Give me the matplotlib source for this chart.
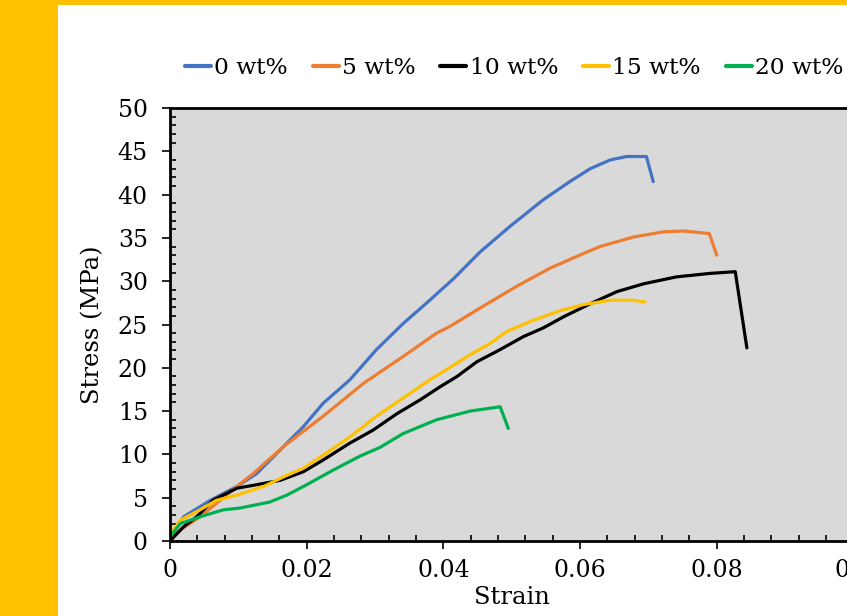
import matplotlib
matplotlib.use("Agg")
import matplotlib.pyplot as plt
from matplotlib.patches import Rectangle
from matplotlib.ticker import MultipleLocator

plt.rcParams['font.family'] = ['DejaVu Serif']

labels = ["0 wt%", "5 wt%", "10 wt%", "15 wt%", "20 wt%"]
colors = ["#4472C4", "#ED7D31", "#000000", "#FFC000", "#00B050"]

strain_0 = [0, 0.0020, 0.0059, 0.0098, 0.0127, 0.0156, 0.0195, 0.0224, 0.0263, 0.0302,
            0.0341, 0.0380, 0.0415, 0.0454, 0.0497, 0.0546, 0.0585, 0.0615, 0.0644,
            0.0668, 0.0697, 0.0707]
stress_0 = [0.5, 2.8, 4.7, 6.3, 7.8, 10.1, 13.2, 15.9, 18.6, 22.1,
            25.1, 27.8, 30.3, 33.4, 36.3, 39.4, 41.5, 43.0, 44.0,
            44.4, 44.4, 41.5]

strain_5 = [0, 0.0044, 0.0098, 0.0122, 0.0166, 0.0224, 0.0283, 0.0341, 0.0390, 0.0410,
            0.0458, 0.0507, 0.0556, 0.0605, 0.0629, 0.0678, 0.0722, 0.0751, 0.0789, 0.0800]
stress_5 = [0.5, 2.8, 6.3, 7.8, 10.9, 14.4, 18.2, 21.3, 24.0, 24.8,
            27.1, 29.4, 31.5, 33.2, 34.0, 35.1, 35.7, 35.8, 35.5, 33.0]

strain_10 = [0, 0.0020, 0.0039, 0.0063, 0.0098, 0.0127, 0.0161, 0.0195, 0.0224, 0.0263,
             0.0297, 0.0332, 0.0366, 0.0395, 0.0420, 0.0449, 0.0483, 0.0517, 0.0546,
             0.0576, 0.0615, 0.0654, 0.0693, 0.0741, 0.0790, 0.0827, 0.0844]
stress_10 = [0, 1.65, 2.8, 4.7, 6.1, 6.5, 7.0, 8.0, 9.35, 11.3,
             12.8, 14.7, 16.3, 17.8, 19.0, 20.7, 22.1, 23.6, 24.6,
             25.9, 27.4, 28.8, 29.7, 30.5, 30.9, 31.1, 22.3]

strain_15 = [0, 0.0015, 0.0044, 0.0068, 0.0098, 0.0137, 0.0166, 0.0195, 0.0224, 0.0263,
             0.0302, 0.0341, 0.0380, 0.0415, 0.0439, 0.0468, 0.0493, 0.0532, 0.0571,
             0.0605, 0.0644, 0.0678, 0.0695]
stress_15 = [0.7, 2.4, 3.6, 4.7, 5.3, 6.3, 7.4, 8.4, 9.9, 12.0,
             14.4, 16.5, 18.6, 20.3, 21.5, 22.8, 24.2, 25.5, 26.6,
             27.3, 27.8, 27.8, 27.6]

strain_20 = [0, 0.0015, 0.0044, 0.0078, 0.0102, 0.0146, 0.0171, 0.0200, 0.0239, 0.0278,
             0.0307, 0.0341, 0.0390, 0.0439, 0.0483, 0.0495]
stress_20 = [0.5, 2.0, 2.8, 3.6, 3.8, 4.5, 5.3, 6.5, 8.2, 9.8,
             10.8, 12.4, 14.0, 15.0, 15.5, 13.0]

series = [(strain_0, stress_0), (strain_5, stress_5), (strain_10, stress_10),
          (strain_15, stress_15), (strain_20, stress_20)]

W, H = 847, 616
fig = plt.figure(figsize=(W / 100, H / 100), dpi=100)
fig.patch.set_facecolor("white")

# yellow frame
fig.add_artist(Rectangle((0, 0), 58 / W, 1, transform=fig.transFigure,
                         facecolor="#FFC000", edgecolor="none", zorder=0))
fig.add_artist(Rectangle((0, 1 - 5 / H), 1, 5 / H, transform=fig.transFigure,
                         facecolor="#FFC000", edgecolor="none", zorder=0))

x0, x1 = 170, 853.5
y_top, y_bot = 108, 541
ax = fig.add_axes([x0 / W, (H - y_bot) / H, (x1 - x0) / W, (y_bot - y_top) / H])
ax.set_facecolor("#D9D9D9")

for (sx, sy), lab, c in zip(series, labels, colors):
    ax.plot(sx, sy, color=c, lw=2.3, label=lab, solid_capstyle="round", solid_joinstyle="round")

ax.set_xlim(0, 0.1)
ax.set_ylim(0, 50)
ax.xaxis.set_major_locator(MultipleLocator(0.02))
ax.xaxis.set_minor_locator(MultipleLocator(0.004))
ax.yaxis.set_major_locator(MultipleLocator(5))
ax.yaxis.set_minor_locator(MultipleLocator(1))
ax.set_xticks([0, 0.02, 0.04, 0.06, 0.08, 0.1])
ax.set_xticklabels(["0", "0.02", "0.04", "0.06", "0.08", "0.1"])

ax.tick_params(which="major", direction="out", length=6, width=1.2, labelsize=17)
ax.tick_params(axis="y", which="major", pad=10)
ax.tick_params(axis="x", which="major", pad=7)
ax.tick_params(which="minor", direction="in", length=4, width=1.2)
for s in ["left", "bottom", "top"]:
    ax.spines[s].set_linewidth(2)
ax.spines["right"].set_visible(False)

ax.set_xlabel("Strain", fontsize=17.5, labelpad=3)
ax.set_ylabel("Stress (MPa)", fontsize=17.5, labelpad=10)

leg = fig.legend(loc="center", bbox_to_anchor=(514 / W, 1 - 68 / H), ncol=5,
                 frameon=False, fontsize=16.8, handlelength=1.12, handletextpad=0.13,
                 columnspacing=1.07)
for l in leg.get_lines():
    l.set_linewidth(3)

fig.savefig("out.png", dpi=100, facecolor="white")
